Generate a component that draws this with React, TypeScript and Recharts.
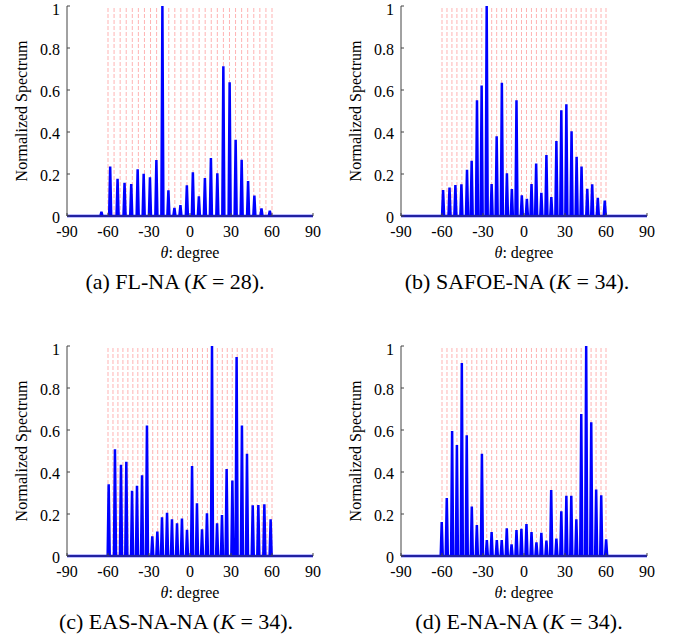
import React from "react";
import { LineChart, Line, XAxis, YAxis, ReferenceLine } from "recharts";

/* axis ticks shared by all four panels */
const X_TICKS = [-90, -60, -30, 0, 30, 60, 90];
const Y_TICKS = [0, 0.2, 0.4, 0.6, 0.8, 1];

/* dashed red grid (true directions), 28 for FL-NA and 34 for the others */
const GRID_28 = [
  -60, -55.56, -51.11, -46.67, -42.22, -37.78, -33.33, -28.89, -24.44, -20,
  -15.56, -11.11, -6.67, -2.22, 2.22, 6.67, 11.11, 15.56, 20, 24.44, 28.89,
  33.33, 37.78, 42.22, 46.67, 51.11, 55.56, 60,
];
const GRID_34 = [
  -60, -56.36, -52.73, -49.09, -45.45, -41.82, -38.18, -34.55, -30.91, -27.27,
  -23.64, -20, -16.36, -12.73, -9.09, -5.45, -1.82, 1.82, 5.45, 9.09, 12.73,
  16.36, 20, 23.64, 27.27, 30.91, 34.55, 38.18, 41.82, 45.45, 49.09, 52.73,
  56.36, 60,
];

/* (a) FL-NA peaks */
const FL_THETA = [
  -64.8, -58.4, -53.0, -47.9, -43.0, -38.3, -33.9, -29.3, -24.6, -20.2, -15.8,
  -11.4, -7.0, -2.3, 2.1, 6.5, 10.9, 15.3, 20.0, 24.4, 29.0, 33.4, 37.8, 42.5,
  47.1, 52.3, 58.4,
];
const FL_PEAK = [
  0.02, 0.235, 0.177, 0.158, 0.152, 0.223, 0.201, 0.184, 0.266, 1.0, 0.122,
  0.038, 0.052, 0.146, 0.208, 0.094, 0.181, 0.276, 0.203, 0.713, 0.637, 0.363,
  0.268, 0.166, 0.097, 0.036, 0.025,
];

/* (b) SAFOE-NA peaks */
const SAFOE_THETA = [
  -59.2, -54.5, -50.2, -45.8, -41.7, -38.3, -34.4, -31.0, -27.3, -23.7, -20.0,
  -16.2, -12.5, -8.9, -5.5, -1.6, 2.1, 5.5, 8.9, 12.7, 16.4, 20.0, 23.7, 27.3,
  31.0, 34.8, 38.5, 42.1, 46.3, 49.9, 54.0, 59.1,
];
const SAFOE_PEAK = [
  0.124, 0.136, 0.147, 0.151, 0.22, 0.263, 0.551, 0.621, 1.0, 0.152, 0.38,
  0.634, 0.203, 0.128, 0.551, 0.098, 0.082, 0.152, 0.25, 0.111, 0.29, 0.09,
  0.357, 0.504, 0.532, 0.403, 0.282, 0.236, 0.13, 0.151, 0.087, 0.074,
];

/* (c) EAS-NA-NA peaks */
const EAS_THETA = [
  -59.5, -54.9, -50.5, -46.6, -42.4, -38.8, -35.1, -31.5, -27.6, -23.9, -20.5,
  -16.8, -13.2, -9.5, -5.9, -2.2, 1.5, 5.1, 8.8, 12.4, 16.1, 19.8, 23.4, 26.8,
  31.0, 34.1, 38.0, 41.7, 45.9, 50.0, 54.4, 59.0,
];
const EAS_PEAK = [
  0.341, 0.508, 0.435, 0.449, 0.311, 0.335, 0.384, 0.621, 0.094, 0.117, 0.184,
  0.206, 0.175, 0.156, 0.179, 0.125, 0.429, 0.251, 0.127, 0.203, 1.0, 0.156,
  0.195, 0.414, 0.36, 0.948, 0.621, 0.487, 0.241, 0.243, 0.246, 0.175,
];

/* (d) E-NA-NA peaks */
const ENA_THETA = [
  -60.2, -56.5, -52.6, -49.1, -45.5, -41.9, -38.2, -34.5, -30.8, -27.2, -23.7,
  -19.9, -16.3, -12.6, -9.1, -5.5, -1.9, 1.8, 5.5, 9.1, 12.7, 16.4, 19.9, 23.7,
  27.3, 31.0, 34.6, 38.3, 41.9, 45.5, 49.2, 52.8, 56.5, 60.1,
];
const ENA_PEAK = [
  0.162, 0.276, 0.595, 0.529, 0.919, 0.575, 0.235, 0.148, 0.487, 0.076, 0.114,
  0.076, 0.076, 0.132, 0.056, 0.124, 0.129, 0.152, 0.114, 0.065, 0.111, 0.073,
  0.314, 0.083, 0.213, 0.287, 0.287, 0.175, 0.676, 1.0, 0.637, 0.316, 0.289,
  0.079,
];

const FONT = "'Liberation Serif', 'Times New Roman', serif";
const AXIS = "#444";

/* turn the peak list into a spiky line: baseline, peak, baseline */
function spectrum(theta: number[], peak: number[]) {
  const pts: { x: number; y: number }[] = [{ x: -90, y: 0 }];
  theta.forEach((t, i) => {
    pts.push({ x: t - 0.75, y: 0 });
    pts.push({ x: t, y: peak[i] });
    pts.push({ x: t + 0.75, y: 0 });
  });
  pts.push({ x: 90, y: 0 });
  return pts;
}

/* y tick label; the top "1" sits a little lower, as MATLAB keeps it inside */
function YTick(props: any) {
  const { x, y, payload } = props;
  const v = payload.value;
  return (
    <text
      x={x}
      y={y + (v === 1 ? 3 : 1)}
      textAnchor="end"
      dominantBaseline="central"
      fill="#000"
      fontSize={16}
      fontFamily={FONT}
    >
      {String(v)}
    </text>
  );
}

type PanelProps = {
  left: number;
  top: number;
  theta: number[];
  peak: number[];
  grid: number[];
  captionX: number;
  caption: React.ReactNode;
};

function Panel({ left, top, theta, peak, grid, captionX, caption }: PanelProps) {
  const data = spectrum(theta, peak);

  return (
    <div style={{ position: "absolute", left, top, width: 340, height: 300 }}>
      <LineChart
        width={330}
        height={240}
        data={data}
        margin={{ top: 6, right: 17, bottom: 0, left: 27 }}
        style={{ overflow: "visible" }}
      >
        <XAxis
          dataKey="x"
          type="number"
          domain={[-90, 90]}
          ticks={X_TICKS}
          interval={0}
          height={24}
          tickSize={-3}
          tickMargin={13}
          stroke={AXIS}
          tick={{ fill: "#000", fontSize: 16, fontFamily: FONT }}
        />
        <XAxis
          xAxisId="top"
          orientation="top"
          type="number"
          domain={[-90, 90]}
          ticks={X_TICKS}
          height={0}
          tickSize={-3}
          tick={false}
          stroke={AXIS}
        />
        <YAxis
          type="number"
          domain={[0, 1]}
          ticks={Y_TICKS}
          interval={0}
          width={40}
          tickSize={-3}
          tickMargin={10}
          stroke={AXIS}
          tick={YTick}
        />
        <YAxis
          yAxisId="right"
          orientation="right"
          type="number"
          domain={[0, 1]}
          ticks={Y_TICKS}
          width={0}
          tickSize={-3}
          tick={false}
          stroke={AXIS}
        />
        {grid.map((g) => (
          <ReferenceLine
            key={g}
            x={g}
            stroke="#ffb3b3"
            strokeWidth={1}
            strokeDasharray="4 2"
          />
        ))}
        <Line
          dataKey="y"
          type="linear"
          stroke="#0000ff"
          strokeWidth={2.5}
          dot={false}
          isAnimationActive={false}
        />
      </LineChart>

      {/* y axis title */}
      <div
        style={{
          position: "absolute",
          left: 22,
          top: 111,
          transform: "translate(-50%, -50%) rotate(-90deg)",
          whiteSpace: "nowrap",
          fontFamily: FONT,
          fontSize: 16,
        }}
      >
        Normalized Spectrum
      </div>

      {/* x axis title */}
      <div
        style={{
          position: "absolute",
          left: 90,
          top: 244,
          width: 200,
          textAlign: "center",
          fontFamily: FONT,
          fontSize: 16,
        }}
      >
        <i>θ</i>: degree
      </div>

      {/* sub-figure caption */}
      <div
        style={{
          position: "absolute",
          left: captionX - 150,
          top: 269,
          width: 300,
          textAlign: "center",
          fontFamily: FONT,
          fontSize: 22,
          whiteSpace: "nowrap",
        }}
      >
        {caption}
      </div>
    </div>
  );
}

export default function App() {
  return (
    <div
      style={{
        position: "absolute",
        left: 0,
        top: 0,
        width: 683,
        height: 641,
        background: "#fff",
      }}
    >
      <Panel
        left={0}
        top={0}
        theta={FL_THETA}
        peak={FL_PEAK}
        grid={GRID_28}
        captionX={175}
        caption={<>(a) FL-NA (<i>K</i> = 28).</>}
      />
      <Panel
        left={334}
        top={0}
        theta={SAFOE_THETA}
        peak={SAFOE_PEAK}
        grid={GRID_34}
        captionX={183}
        caption={<>(b) SAFOE-NA (<i>K</i> = 34).</>}
      />
      <Panel
        left={0}
        top={340}
        theta={EAS_THETA}
        peak={EAS_PEAK}
        grid={GRID_34}
        captionX={176}
        caption={<>(c) EAS-NA-NA (<i>K</i> = 34).</>}
      />
      <Panel
        left={334}
        top={340}
        theta={ENA_THETA}
        peak={ENA_PEAK}
        grid={GRID_34}
        captionX={185}
        caption={<>(d) E-NA-NA (<i>K</i> = 34).</>}
      />
    </div>
  );
}
